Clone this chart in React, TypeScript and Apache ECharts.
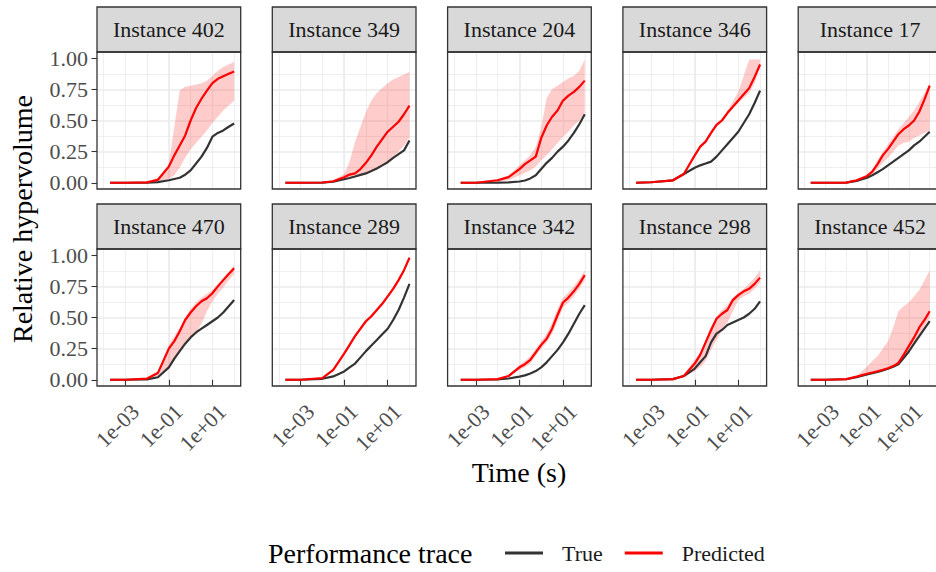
import React, { useEffect, useRef } from "react";
import * as echarts from "echarts";

// Time points (seconds) at which the traces were read
const TIMES = [0.0002, 0.001, 0.01, 0.0316, 0.1, 0.178, 0.316, 0.562, 1, 1.78, 3.16, 5.62, 10, 17.8, 31.6, 56.2, 100];

const PANEL_IDS = ["402", "349", "204", "346", "17", "470", "289", "342", "298", "452"];

// Instance 402
const true402 = [0, 0, 0, 0.005, 0.02, 0.03, 0.04, 0.065, 0.1, 0.155, 0.21, 0.28, 0.37, 0.4, 0.42, 0.45, 0.476];
const pred402 = [0, 0, 0.003, 0.024, 0.13, 0.22, 0.3, 0.38, 0.5, 0.6, 0.675, 0.74, 0.8, 0.835, 0.855, 0.875, 0.893];
const lo402 = [0, 0, 0, 0.01, 0.03, 0.06, 0.12, 0.2, 0.27, 0.32, 0.37, 0.42, 0.48, 0.53, 0.58, 0.62, 0.66];
const hi402 = [0, 0, 0.01, 0.04, 0.15, 0.45, 0.74, 0.77, 0.78, 0.79, 0.8, 0.82, 0.86, 0.9, 0.93, 0.95, 0.97];
// Instance 349
const true349 = [0, 0, 0.001, 0.008, 0.028, 0.038, 0.05, 0.063, 0.075, 0.095, 0.115, 0.14, 0.165, 0.2, 0.23, 0.26, 0.34];
const pred349 = [0, 0, 0.002, 0.012, 0.045, 0.066, 0.075, 0.11, 0.16, 0.22, 0.29, 0.35, 0.41, 0.45, 0.49, 0.55, 0.62];
const lo349 = [0, 0, 0, 0.006, 0.025, 0.035, 0.045, 0.055, 0.07, 0.09, 0.11, 0.14, 0.17, 0.21, 0.25, 0.3, 0.36];
const hi349 = [0, 0, 0.005, 0.02, 0.07, 0.17, 0.33, 0.45, 0.57, 0.66, 0.72, 0.76, 0.8, 0.83, 0.85, 0.87, 0.89];
// Instance 204
const true204 = [0, 0, 0.001, 0.003, 0.01, 0.018, 0.035, 0.06, 0.11, 0.16, 0.2, 0.25, 0.29, 0.34, 0.4, 0.47, 0.55];
const pred204 = [0, 0, 0.02, 0.045, 0.11, 0.15, 0.18, 0.21, 0.36, 0.46, 0.53, 0.58, 0.66, 0.7, 0.73, 0.77, 0.82];
const lo204 = [0, 0, 0.01, 0.02, 0.06, 0.08, 0.1, 0.13, 0.18, 0.22, 0.27, 0.32, 0.37, 0.41, 0.46, 0.5, 0.56];
const hi204 = [0, 0, 0.03, 0.06, 0.14, 0.18, 0.22, 0.29, 0.45, 0.68, 0.75, 0.78, 0.81, 0.84, 0.86, 0.9, 0.99];
// Instance 346
const true346 = [0, 0.004, 0.02, 0.07, 0.12, 0.14, 0.155, 0.17, 0.21, 0.26, 0.31, 0.36, 0.41, 0.48, 0.55, 0.64, 0.74];
const pred346 = [0, 0.004, 0.02, 0.07, 0.22, 0.29, 0.33, 0.4, 0.465, 0.5, 0.56, 0.61, 0.66, 0.71, 0.76, 0.85, 0.95];
const lo346 = [0, 0.004, 0.018, 0.065, 0.21, 0.28, 0.32, 0.39, 0.45, 0.49, 0.55, 0.6, 0.64, 0.68, 0.72, 0.8, 0.92];
const hi346 = [0, 0.005, 0.024, 0.078, 0.23, 0.3, 0.35, 0.42, 0.48, 0.52, 0.58, 0.65, 0.73, 0.86, 0.99, 0.99, 0.99];
// Instance 17
const true17 = [0, 0, 0.001, 0.015, 0.04, 0.06, 0.085, 0.11, 0.14, 0.17, 0.2, 0.23, 0.26, 0.3, 0.33, 0.37, 0.41];
const pred17 = [0, 0, 0.001, 0.02, 0.055, 0.09, 0.15, 0.22, 0.27, 0.33, 0.39, 0.43, 0.46, 0.5, 0.57, 0.67, 0.78];
const lo17 = [0, 0, 0, 0.015, 0.045, 0.07, 0.11, 0.16, 0.2, 0.25, 0.3, 0.32, 0.33, 0.36, 0.38, 0.4, 0.42];
const hi17 = [0, 0, 0.002, 0.025, 0.06, 0.11, 0.18, 0.25, 0.31, 0.37, 0.43, 0.48, 0.53, 0.58, 0.65, 0.72, 0.8];
// Instance 470
const true470 = [0, 0, 0.003, 0.02, 0.1, 0.17, 0.23, 0.29, 0.34, 0.38, 0.41, 0.44, 0.47, 0.5, 0.54, 0.59, 0.64];
const pred470 = [0, 0, 0.01, 0.055, 0.25, 0.31, 0.39, 0.48, 0.54, 0.59, 0.63, 0.655, 0.695, 0.75, 0.8, 0.85, 0.895];
const lo470 = [0, 0, 0.005, 0.03, 0.1, 0.15, 0.22, 0.3, 0.34, 0.38, 0.45, 0.55, 0.63, 0.69, 0.74, 0.8, 0.85];
const hi470 = [0, 0, 0.015, 0.07, 0.28, 0.35, 0.42, 0.5, 0.57, 0.62, 0.66, 0.69, 0.72, 0.77, 0.82, 0.87, 0.92];
// Instance 289
const true289 = [0, 0, 0.008, 0.027, 0.067, 0.1, 0.13, 0.18, 0.23, 0.275, 0.32, 0.365, 0.41, 0.48, 0.56, 0.66, 0.77];
const pred289 = [0, 0, 0.013, 0.08, 0.21, 0.28, 0.35, 0.41, 0.47, 0.51, 0.56, 0.61, 0.67, 0.73, 0.8, 0.88, 0.98];
const lo289 = [0, 0, 0.008, 0.07, 0.2, 0.265, 0.335, 0.395, 0.455, 0.495, 0.545, 0.595, 0.655, 0.715, 0.785, 0.865, 0.965];
const hi289 = [0, 0, 0.018, 0.09, 0.22, 0.295, 0.365, 0.425, 0.485, 0.525, 0.575, 0.625, 0.685, 0.745, 0.815, 0.895, 0.99];
// Instance 342
const true342 = [0, 0, 0.002, 0.01, 0.025, 0.035, 0.05, 0.07, 0.1, 0.14, 0.19, 0.24, 0.3, 0.37, 0.45, 0.53, 0.6];
const pred342 = [0, 0, 0.005, 0.03, 0.1, 0.125, 0.16, 0.22, 0.28, 0.33, 0.41, 0.52, 0.62, 0.66, 0.71, 0.77, 0.84];
const lo342 = [0, 0, 0.002, 0.02, 0.08, 0.1, 0.13, 0.19, 0.25, 0.3, 0.37, 0.47, 0.58, 0.62, 0.67, 0.73, 0.8];
const hi342 = [0, 0, 0.008, 0.04, 0.12, 0.15, 0.19, 0.25, 0.31, 0.37, 0.46, 0.57, 0.66, 0.7, 0.75, 0.81, 0.88];
// Instance 298
const true298 = [0, 0, 0.005, 0.03, 0.09, 0.14, 0.19, 0.3, 0.37, 0.4, 0.44, 0.46, 0.48, 0.5, 0.53, 0.57, 0.63];
const pred298 = [0, 0, 0.005, 0.03, 0.13, 0.2, 0.3, 0.4, 0.49, 0.53, 0.56, 0.64, 0.68, 0.71, 0.73, 0.77, 0.82];
const lo298 = [0, 0, 0.002, 0.02, 0.07, 0.1, 0.15, 0.24, 0.32, 0.4, 0.46, 0.55, 0.64, 0.67, 0.69, 0.73, 0.78];
const hi298 = [0, 0, 0.008, 0.04, 0.16, 0.22, 0.32, 0.43, 0.51, 0.56, 0.6, 0.66, 0.7, 0.73, 0.77, 0.82, 0.88];
// Instance 452
const true452 = [0, 0, 0.004, 0.02, 0.042, 0.052, 0.062, 0.075, 0.088, 0.105, 0.125, 0.175, 0.227, 0.29, 0.35, 0.41, 0.47];
const pred452 = [0, 0, 0.005, 0.025, 0.048, 0.058, 0.068, 0.08, 0.093, 0.11, 0.135, 0.2, 0.27, 0.34, 0.42, 0.48, 0.55];
const lo452 = [0, 0, 0.004, 0.02, 0.04, 0.05, 0.06, 0.072, 0.085, 0.1, 0.12, 0.17, 0.22, 0.29, 0.36, 0.43, 0.5];
const hi452 = [0, 0, 0.006, 0.03, 0.107, 0.15, 0.19, 0.25, 0.31, 0.42, 0.55, 0.59, 0.62, 0.67, 0.72, 0.8, 0.88];

const TRUE_TRACES = [true402, true349, true204, true346, true17, true470, true289, true342, true298, true452];
const PRED_TRACES = [pred402, pred349, pred204, pred346, pred17, pred470, pred289, pred342, pred298, pred452];
const LOWER_BOUNDS = [lo402, lo349, lo204, lo346, lo17, lo470, lo289, lo342, lo298, lo452];
const UPPER_BOUNDS = [hi402, hi349, hi204, hi346, hi17, hi470, hi289, hi342, hi298, hi452];

const Y_TICKS = [0, 0.25, 0.5, 0.75, 1];
const X_TICKS = [0.001, 0.1, 10];

const FONT = "'Liberation Serif', 'Times New Roman', serif";
const TRUE_COLOR = "#333333";
const PRED_COLOR = "#FF0000";
const RIBBON_COLOR = "rgba(255,0,0,0.2)";
const GRID_COLOR = "#EBEBEB";

const PANEL_LEFT0 = 97;
const COL_STEP = 175.3;
const PANEL_W = 143.7;
const PANEL_H = 137;
const ROW_TOPS = [52, 249];
const STRIP_H = 45;

function fmtExp(v: number) {
  const e = Math.round(Math.log10(v));
  return "1e" + (e < 0 ? "-" : "+") + String(Math.abs(e)).padStart(2, "0");
}

export default function App() {
  const ref = useRef<HTMLDivElement>(null);
  useEffect(() => {
    document.body.style.margin = "0";
    const chart = echarts.init(ref.current!, null, { renderer: "svg" });

    const grids: any[] = [];
    const xAxes: any[] = [];
    const yAxes: any[] = [];
    const series: any[] = [];
    const graphics: any[] = [];

    PANEL_IDS.forEach((id, i) => {
      const r = Math.floor(i / 5);
      const c = i % 5;
      const left = PANEL_LEFT0 + COL_STEP * c;
      const top = ROW_TOPS[r];
      grids.push({ left, top, width: PANEL_W, height: PANEL_H, show: true, backgroundColor: "#FFFFFF", borderWidth: 0 });

      // major axis (data axis, ticks + labels)
      xAxes.push({
        type: "log",
        logBase: 10,
        gridIndex: i,
        min: Math.pow(10, -4.3),
        max: Math.pow(10, 2.3),
        position: "bottom",
        axisLine: { show: false },
        axisTick: {
          show: r === 1,
          length: 5.5,
          lineStyle: { color: "#333333", width: 1.1 },
          customValues: X_TICKS,
        },
        axisLabel: {
          show: r === 1,
          customValues: X_TICKS,
          formatter: fmtExp,
          rotate: 45,
          align: "right",
          verticalAlign: "top",
          padding: [3, 0, 0, 0],
          margin: 12,
          fontFamily: FONT,
          fontSize: 22,
          color: "#4D4D4D",
        },
        splitLine: { show: true, showMinLine: false, showMaxLine: false, lineStyle: { color: GRID_COLOR, width: 1.6 } },
      });
      // minor grid axis (every decade)
      xAxes.push({
        type: "log",
        logBase: 10,
        gridIndex: i,
        min: Math.pow(10, -4.3),
        max: Math.pow(10, 2.3),
        position: "top",
        axisLine: { show: false },
        axisTick: { show: false },
        axisLabel: { show: false },
        splitLine: { show: true, showMinLine: false, showMaxLine: false, lineStyle: { color: GRID_COLOR, width: 0.8 } },
      });
      yAxes.push({
        type: "value",
        gridIndex: i,
        min: -0.05,
        max: 1.05,
        minInterval: 0.25,
        maxInterval: 0.25,
        splitNumber: 4,
        axisLine: { show: false },
        axisTick: {
          show: c === 0,
          length: 5.5,
          lineStyle: { color: "#333333", width: 1.1 },
          customValues: Y_TICKS,
        },
        axisLabel: {
          show: c === 0,
          customValues: Y_TICKS,
          formatter: (v: number) => v.toFixed(2),
          margin: 9,
          fontFamily: FONT,
          fontSize: 22,
          color: "#4D4D4D",
        },
        splitLine: { show: true, showMinLine: false, showMaxLine: false, lineStyle: { color: GRID_COLOR, width: 1.6 } },
        minorTick: { show: false, splitNumber: 2 },
        minorSplitLine: { show: true, lineStyle: { color: GRID_COLOR, width: 0.8 } },
      });

      const lo = LOWER_BOUNDS[i];
      const hi = UPPER_BOUNDS[i];
      // ribbon: polygon between lower and upper bounds, positioned by the axes
      series.push({
        type: "custom",
        name: "ribbon-" + id,
        xAxisIndex: 2 * i,
        yAxisIndex: i,
        silent: true,
        data: TIMES.map((t, k) => [t, lo[k], hi[k]]),
        encode: { x: 0, y: [1, 2] },
        renderItem: (params: any, api: any) => {
          if (params.dataIndex !== 0) return null;
          const upper = TIMES.map((t, k) => api.coord([t, hi[k]]));
          const lower = TIMES.map((t, k) => api.coord([t, lo[k]])).reverse();
          return {
            type: "polygon",
            shape: { points: upper.concat(lower) },
            style: { fill: RIBBON_COLOR, stroke: "none" },
          };
        },
      });
      series.push({
        type: "line",
        name: "True",
        xAxisIndex: 2 * i,
        yAxisIndex: i,
        symbol: "none",
        itemStyle: { color: TRUE_COLOR },
        lineStyle: { color: TRUE_COLOR, width: 2.2 },
        data: TIMES.map((t, k) => [t, TRUE_TRACES[i][k]]),
      });
      series.push({
        type: "line",
        name: "Predicted",
        xAxisIndex: 2 * i,
        yAxisIndex: i,
        symbol: "none",
        itemStyle: { color: PRED_COLOR },
        lineStyle: { color: PRED_COLOR, width: 2.2 },
        data: TIMES.map((t, k) => [t, PRED_TRACES[i][k]]),
      });

      // strip
      graphics.push({
        type: "rect",
        z: 100,
        shape: { x: left, y: top - STRIP_H, width: PANEL_W, height: STRIP_H },
        style: { fill: "#D9D9D9", stroke: "#333333", lineWidth: 1.3 },
      });
      graphics.push({
        type: "text",
        z: 101,
        x: left + PANEL_W / 2,
        y: top - STRIP_H / 2,
        style: {
          text: "Instance " + id,
          fontFamily: FONT,
          fontSize: 22,
          fill: "#1A1A1A",
          align: "center",
          verticalAlign: "middle",
        },
      });
      // panel border
      graphics.push({
        type: "rect",
        z: 100,
        shape: { x: left, y: top, width: PANEL_W, height: PANEL_H },
        style: { fill: "none", stroke: "#333333", lineWidth: 1.3 },
      });
    });

    graphics.push({
      type: "text",
      x: 22,
      y: 219,
      rotation: Math.PI / 2,
      style: {
        text: "Relative hypervolume",
        fontFamily: FONT,
        fontSize: 28,
        fill: "#000000",
        align: "center",
        verticalAlign: "middle",
      },
    });
    graphics.push({
      type: "text",
      x: 519,
      y: 472,
      style: {
        text: "Time (s)",
        fontFamily: FONT,
        fontSize: 28,
        fill: "#000000",
        align: "center",
        verticalAlign: "middle",
      },
    });
    graphics.push({
      type: "text",
      x: 268,
      y: 553,
      style: {
        text: "Performance trace",
        fontFamily: FONT,
        fontSize: 28,
        fill: "#000000",
        align: "left",
        verticalAlign: "middle",
      },
    });

    chart.setOption({
      animation: false,
      backgroundColor: "#FFFFFF",
      grid: grids,
      xAxis: xAxes,
      yAxis: yAxes,
      series,
      legend: {
        data: ["True", "Predicted"],
        left: 505,
        top: 542,
        orient: "horizontal",
        icon: "rect",
        itemWidth: 38,
        itemHeight: 3,
        itemGap: 22,
        padding: 0,
        selectedMode: false,
        textStyle: { fontFamily: FONT, fontSize: 22, color: "#1A1A1A", padding: [0, 0, 0, 14] },
      },
      graphic: graphics,
    });
    return () => chart.dispose();
  }, []);
  return <div ref={ref} style={{ width: 936, height: 572 }} />;
}
